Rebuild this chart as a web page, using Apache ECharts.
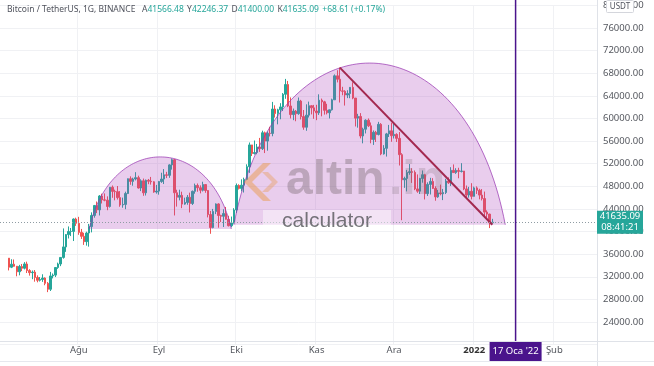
<!DOCTYPE html>
<html><head><meta charset="utf-8">
<script src="https://cdn.jsdelivr.net/npm/echarts@6/dist/echarts.min.js"></script>
<style>html,body{margin:0;padding:0;background:#fff}#c{width:654px;height:366px}</style>
</head><body><div id="c"></div>
<script>
// ---------- DATA ----------
const axisFirstDate = '2021-07-02';
const axisLastDate = '2022-02-17';
const firstCandleDate = '2021-07-05';

const opens = [
 35290,33690,34220,33860,32880,33810,33510,34260,33090,32730,32820,31880,31380,31520,31780,30840,29790,32140,32290,33640,34260,35420,37280,39460,40010,40020,42210,
 41460,39850,39150,38210,39740,40870,42840,44610,43830,46290,45600,45550,44430,47830,47100,47050,46000,44700,44800,46720,49340,48870,49290,49530,47700,48970,46850,49070,48900,48800,46990,
 47150,48850,49280,50030,49940,51790,52700,46860,46070,46400,44850,45150,46060,44960,47110,48150,47750,47300,48310,47260,43000,40700,43550,44880,42840,42700,43180,42170,41030,41520,
 43820,48140,47630,48200,49220,51470,55320,53800,53970,54950,54660,57470,56000,57370,57350,61670,60870,61530,62040,64280,66000,62210,60690,61300,60850,63080,60330,58450,60590,62250,61880,
 61320,61000,63230,62940,61440,61010,61530,63300,67540,66940,64880,64810,64150,64400,65500,63610,60060,60360,56900,58100,59700,58700,56290,57560,57160,58960,53730,54720,57270,57810,
 56950,57180,56480,53600,49150,49400,50440,50590,50470,47540,47140,49390,50050,46700,48340,48860,47630,46130,46830,46680,46900,48940,48630,50820,50430,50810,50640,50700,47540,46460,47120,
 46220,47720,47290,46450,45830,43440,43080,41566.48
];
const highs = [
 35290,35100,35060,33910,34100,34260,34590,34670,33340,33110,33190,32250,31950,32440,31900,31060,32860,32580,33650,34500,35450,40550,39540,40900,40630,42320,42450,
 42600,40460,39780,39970,41350,43390,44700,45310,46450,46690,46740,46220,47880,48140,47400,48050,47160,46000,47050,49380,49760,49520,50500,49880,49240,49370,49200,49300,49660,48900,48250,
 48950,50400,51050,50560,51900,52920,52800,47390,47400,47050,45990,46460,46880,47250,48480,48500,48170,48810,48370,47330,43640,44000,44980,45000,42970,43940,44350,42790,42650,44130,
 48500,48360,49230,49530,51890,55750,55330,56100,55490,56560,57840,57680,57700,58530,62930,62330,61720,62700,64490,67000,66640,63730,61750,61490,63710,63290,61500,62500,62980,62360,62400,
 62420,64270,63520,63120,62600,61560,63500,67790,68530,69000,65600,65000,64990,65550,66400,63620,60820,60950,58370,59850,60000,59290,57880,57800,59400,59180,55280,57450,58860,59250,
 59060,57380,57600,53860,49700,50900,51940,51200,50800,50100,49490,50800,50200,48700,49500,49440,48000,47360,48300,47540,49330,49580,51380,51870,51200,51280,52090,50710,48140,47900,48550,
 47950,47990,47570,47510,47070,43750,43150,42246.37
];
const lows = [
 33120,33530,33770,32080,32260,33000,33300,32660,32200,31570,31130,31020,31160,31100,30500,29280,29480,31710,31950,33400,33880,35200,36400,38770,39200,38320,41000,
 39420,38690,37640,37510,37330,39850,42450,43260,42840,44960,45350,43770,44240,45970,45520,45660,44380,44210,43950,46630,48270,48100,49040,47600,47150,46320,46370,48370,48300,46860,46700,
 46520,48610,48400,49450,49500,50950,42840,44410,45510,44140,44740,44740,43370,44690,46690,47040,46750,47090,46850,42500,39600,40570,43080,40680,41680,40800,42100,40900,40750,41420,
 43290,47430,47100,46900,49070,50380,53360,53620,53660,54090,54420,53880,54300,56820,56850,60150,58960,59860,61320,63480,62000,60000,59700,59510,60650,59820,58000,57820,60170,60720,59940,
 59700,60620,60380,60680,60720,60000,61390,63270,66380,62820,64100,62280,63600,63580,63400,58580,58370,56480,55600,57350,58480,55610,55320,55840,57000,53500,53610,53260,56720,55880,
 56460,55840,51680,42000,47730,47100,50040,48600,47320,46850,46640,48640,45670,46290,46550,47520,45450,45960,46400,45560,46630,48420,48050,50390,50200,49420,50450,47320,46100,46000,45680,
 46210,46650,45700,45500,42500,42450,40610,41400.00
];
const closes = [
 33690,34220,33860,32880,33810,33510,34260,33090,32730,32820,31880,31380,31520,31780,30840,29790,32140,32290,33640,34260,35420,37280,39460,40010,40020,42210,41460,
 39850,39150,38210,39740,40870,42840,44610,43830,46290,45600,45550,44430,47830,47100,47050,46000,44700,44800,46720,49340,48870,49290,49530,47700,48970,46850,49070,48900,48800,46990,47150,
 48850,49280,50030,49940,51790,52700,46860,46070,46400,44850,45150,46060,44960,47110,48150,47750,47300,48310,47260,43000,40700,43550,44880,42840,42700,43180,42170,41030,41520,43820,
 48140,47630,48200,49220,51470,55320,53800,53970,54950,54660,57470,56000,57370,57350,61670,60870,61530,62040,64280,66000,62210,60690,61300,60850,63080,60330,58450,60590,62250,61880,61320,
 61000,63230,62940,61440,61010,61530,63300,67540,66940,64880,64810,64150,64400,65500,63610,60060,60360,56900,58100,59700,58700,56290,57560,57160,58960,53730,54720,57270,57810,56950,
 57180,56480,53600,49150,49400,50440,50590,50470,47540,47140,49390,50050,46700,48340,48860,47630,46130,46830,46680,46900,48940,48630,50820,50430,50810,50640,50700,47540,46460,47120,46220,
 47720,47290,46450,45830,43440,43080,41570,41635.09
];

const xTickDates = ['2021-08-01','2021-09-01','2021-10-01','2021-11-01','2021-12-01','2022-01-01','2022-02-01'];
const xTickLabels = ['Ağu','Eyl','Eki','Kas','Ara','2022','Şub'];
const yMin = 20000, yMax = 80000, yInterval = 4000;

const lastPrice = 41635.09;
const lastTime = '08:41:21';
const headerTitle = 'Bitcoin / TetherUS, 1G, BINANCE';
const headerOHLC = [['A','41566.48'],['Y','42246.37'],['D','41400.00'],['K','41635.09']];
const headerChange = '+68.61 (+0.17%)';

// drawings
const arcs = [ // [startDate, endDate, basePrice, peakPrice]
  ['2021-08-05','2021-09-29',40450,53200],
  ['2021-09-30','2022-01-13',41200,69800]
];
const trendLine = [['2021-11-10',69000],['2022-01-08',41200]];
const markerDate = '2022-01-17';
const markerLabel = "17 Oca '22";

// ---------- BUILD ----------
const DAY = 864e5;
const toUTC = s => { const p = s.split('-').map(Number); return Date.UTC(p[0], p[1]-1, p[2]); };
const categories = [];
for (let t = toUTC(axisFirstDate); t <= toUTC(axisLastDate); t += DAY) categories.push(new Date(t).toISOString().slice(0,10));
const c0 = categories.indexOf(firstCandleDate);
const candleData = opens.map((o,i) => [categories[c0+i], o, closes[i], lows[i], highs[i]]);
const arcData = arcs.map(a => [categories.indexOf(a[0]), categories.indexOf(a[1]), a[2], a[3]]);

const FONT = 'Noto Sans';
const txtColor = '#55585f';
const isTick = (idx, val) => xTickDates.indexOf(val) >= 0;

const chart = echarts.init(document.getElementById('c'), null, {renderer:'canvas'});
const option = {
  animation: false,
  backgroundColor: '#ffffff',
  grid: { left: 0, right: 57, top: 5.4, bottom: 21.4 },
  xAxis: {
    type: 'category', data: categories, boundaryGap: true,
    axisLine: {show:false}, axisTick: {show:false},
    axisLabel: {
      interval: isTick, margin: 1, fontSize: 9.5, fontFamily: FONT, color: txtColor,
      formatter: v => { const k = xTickDates.indexOf(v); if (k < 0) return ''; const l = xTickLabels[k]; return /^\d+$/.test(l) ? '{b|' + l + '}' : l; },
      rich: { b: { fontWeight: 'bold', fontSize: 9.5, fontFamily: FONT, color: '#333' } }
    },
    splitLine: { show: true, interval: isTick, lineStyle: { color: '#f0f1f4', width: 1 } }
  },
  yAxis: {
    type: 'value', position: 'right', min: yMin, max: yMax, interval: yInterval, scale: false,
    axisLine: {show:false}, axisTick: {show:false},
    axisLabel: { margin: 6, fontSize: 9.5, fontFamily: FONT, color: txtColor,
      formatter: v => v === yMin ? '' : v.toFixed(2) },
    splitLine: { lineStyle: { color: '#f0f1f4', width: 1 } }
  },
  series: [
    {
      type: 'candlestick', z: 2,
      data: candleData, encode: { x: 0, y: [1,2,3,4] },
      barWidth: 2,
      itemStyle: { color: '#26a69a', color0: '#ef5350', borderColor: '#26a69a', borderColor0: '#ef5350', borderWidth: 1 },
      markLine: {
        silent: true, symbol: ['none','none'], label: { show: false },
        data: [ { yAxis: lastPrice, lineStyle: { type: [1,2], color: '#8f9ca3', width: 1 } } ]
      }
    },
    {
      type: 'custom', z: 3, clip: false,
      data: arcData, encode: { x: [0,1], y: [2,3] },
      renderItem: function (params, api) {
        const i0 = api.value(0), i1 = api.value(1), base = api.value(2), peak = api.value(3);
        const a = api.coord([i0, base]), b = api.coord([i1, base]);
        const ty = api.coord([i0, peak])[1];
        const W = b[0] - a[0], by = a[1], H = (by - ty) / 0.75, k = 0.15;
        const pts = [];
        for (let s = 0; s <= 80; s++) {
          const u = s / 80, m = 1 - u;
          pts.push([a[0] + W * (3*m*m*u*k + 3*m*u*u*(1-k) + u*u*u), by - H * (3*m*m*u + 3*m*u*u)]);
        }
        return { type: 'group', children: [
          { type: 'polygon', shape: { points: pts }, style: { fill: 'rgba(175,72,190,0.27)' } },
          { type: 'polyline', shape: { points: pts }, style: { fill: null, stroke: 'rgba(150,50,175,0.7)', lineWidth: 1 } }
        ]};
      }
    },
    {
      type: 'line', z: 4, data: trendLine, showSymbol: false, silent: true,
      lineStyle: { color: '#a3284f', width: 2 }
    }
  ]
};
chart.setOption(option);

// overlay elements positioned through the chart's own scales
const xMark = chart.convertToPixel({xAxisIndex:0}, markerDate);
const yLast = chart.convertToPixel({yAxisIndex:0}, lastPrice);
const plotRight = 597, axisBottom = 341;

const headerRich = { g: { fill: '#4f525c', fontSize: 8.5, fontFamily: FONT }, v: { fill: '#26a69a', fontSize: 8.5, fontFamily: FONT } };
let headerText = '{g|' + headerTitle + '}  ' + headerOHLC.map(p => '{g|' + p[0] + '}{v|' + p[1] + '}').join(' ') + ' {v|' + headerChange + '}';

const g = [
  { type: 'line', shape: { x1: plotRight + 0.5, y1: 0, x2: plotRight + 0.5, y2: 366 }, style: { stroke: '#dfe2e8', lineWidth: 1 }, z: 20 },
  { type: 'line', shape: { x1: 0, y1: axisBottom + 0.5, x2: 654, y2: axisBottom + 0.5 }, style: { stroke: '#dfe2e8', lineWidth: 1 }, z: 20 },
  { type: 'line', shape: { x1: 0, y1: 361.5, x2: 654, y2: 361.5 }, style: { stroke: '#e6e8ee', lineWidth: 1 }, z: 20 },
  // watermark
  { type: 'polygon', shape: { points: [[263,163],[244,182],[263,201],[271,201],[252,182],[271,163]] }, style: { fill: 'rgba(232,150,60,0.45)' }, z: 15 },
  { type: 'polygon', shape: { points: [[268,172],[278,182],[268,192],[262,192],[272,182],[262,172]] }, style: { fill: 'rgba(232,150,60,0.35)' }, z: 15 },
  { type: 'text', style: { text: 'altin', x: 286, y: 181, font: 'bold 48px "Liberation Sans"', fill: 'rgba(115,100,105,0.38)', verticalAlign: 'middle' }, z: 15 },
  { type: 'text', style: { text: '.in', x: 389, y: 181, font: 'bold 48px "Liberation Sans"', fill: 'rgba(115,100,105,0.22)', verticalAlign: 'middle' }, z: 15 },
  { type: 'rect', shape: { x: 263, y: 210, width: 128, height: 21 }, style: { fill: 'rgba(255,255,255,0.45)' }, z: 15 },
  { type: 'text', style: { text: 'calculator', x: 327, y: 221, font: '21px "Liberation Sans"', fill: 'rgba(85,85,90,0.8)', align: 'center', verticalAlign: 'middle' }, z: 16 },
  // vertical marker
  { type: 'line', shape: { x1: xMark, y1: 0, x2: xMark, y2: axisBottom }, style: { stroke: '#4a148c', lineWidth: 1.5 }, z: 21 },
  { type: 'rect', shape: { x: xMark - 26, y: axisBottom + 1, width: 52, height: 19 }, style: { fill: '#4a148c' }, z: 22 },
  { type: 'text', style: { text: markerLabel, x: xMark, y: axisBottom + 10.5, fill: '#ffffff', fontSize: 9.5, fontFamily: FONT, align: 'center', verticalAlign: 'middle' }, z: 23 },
  // last price label
  { type: 'rect', shape: { x: plotRight, y: yLast - 11.5, width: 46, height: 23 }, style: { fill: '#26a69a' }, z: 22 },
  { type: 'text', style: { text: lastPrice.toFixed(2) + '\n' + lastTime, x: plotRight + 23, y: yLast, fill: '#ffffff', fontSize: 9.5, fontFamily: FONT, lineHeight: 11, align: 'center', verticalAlign: 'middle' }, z: 23 },
  // USDT box
  { type: 'rect', shape: { x: 606.5, y: 0.5, width: 27, height: 12, r: 1 }, style: { fill: '#ffffff', stroke: '#d4d6dc', lineWidth: 1 }, z: 22 },
  { type: 'text', style: { text: 'USDT', x: 620, y: 7, fill: '#4f525c', fontSize: 8, fontFamily: FONT, align: 'center', verticalAlign: 'middle' }, z: 23 },
  // header
  { type: 'text', style: { text: headerText, x: 7, y: 10, rich: headerRich, verticalAlign: 'middle' }, z: 23 }
];
chart.setOption({ graphic: g });
</script>
</body></html>
